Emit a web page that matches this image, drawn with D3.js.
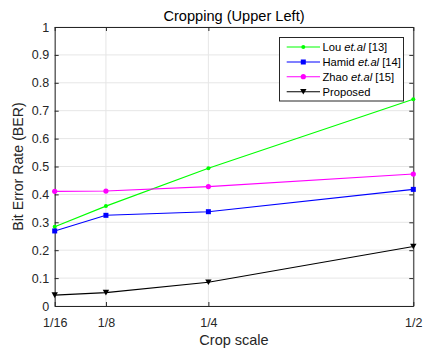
<!DOCTYPE html>
<html><head><meta charset="utf-8">
<script src="https://cdn.jsdelivr.net/npm/d3@7"></script>
<style>body{margin:0;background:#fff;}text{font-family:"Liberation Sans",Arial,sans-serif;}</style>
</head><body><svg id="c" width="426" height="350"></svg>
<script>
const xValues=[0.0625,0.125,0.25,0.5];
const xTickLabels=["1/16","1/8","1/4","1/2"];
const yTicks=[0,0.1,0.2,0.3,0.4,0.5,0.6,0.7,0.8,0.9,1];
const seriesNames=["Lou et.al [13]","Hamid et.al [14]","Zhao et.al [15]","Proposed"];
const louValues=[0.284,0.358,0.494,0.741];
const hamidValues=[0.269,0.325,0.338,0.418];
const zhaoValues=[0.411,0.412,0.428,0.473];
const proposedValues=[0.039,0.048,0.085,0.213];

const series=[
 {name:"Lou",ref:"[13]",vals:louValues,color:"#00ff00",marker:"dot"},
 {name:"Hamid",ref:"[14]",vals:hamidValues,color:"#0000ff",marker:"square"},
 {name:"Zhao",ref:"[15]",vals:zhaoValues,color:"#ff00ff",marker:"circle"},
 {name:"Proposed",ref:"",vals:proposedValues,color:"#000000",marker:"tri"}
];
const svg=d3.select("#c");
const L=54.7,R=413.3,T=27,B=306;
const x=d3.scaleLinear().domain([0.0625,0.5]).range([L,R]);
const y=d3.scaleLinear().domain([0,1]).range([B,T]);

// grid
svg.append("g").selectAll("line").data(yTicks).join("line")
 .attr("x1",L).attr("x2",R).attr("y1",d=>y(d)).attr("y2",d=>y(d))
 .attr("stroke","#e6e6e6").attr("stroke-width",1);
svg.append("g").selectAll("line").data(xValues).join("line")
 .attr("y1",T).attr("y2",B).attr("x1",d=>x(d)).attr("x2",d=>x(d))
 .attr("stroke","#e6e6e6").attr("stroke-width",1);

// axes
const fmt=d=>d===0?"0":(d===1?"1":d3.format(".1f")(d));
const ay=svg.append("g").attr("transform",`translate(${L},0)`)
 .call(d3.axisLeft(y).tickValues(yTicks).tickFormat(fmt).tickSizeInner(-4).tickSizeOuter(0).tickPadding(5.5));
const ay2=svg.append("g").attr("transform",`translate(${R},0)`)
 .call(d3.axisRight(y).tickValues(yTicks).tickFormat("").tickSizeInner(-4).tickSizeOuter(0));
const ax=svg.append("g").attr("transform",`translate(0,${B})`)
 .call(d3.axisBottom(x).tickValues(xValues).tickFormat((d,i)=>xTickLabels[i]).tickSizeInner(-4).tickSizeOuter(0).tickPadding(12));
const ax2=svg.append("g").attr("transform",`translate(0,${T})`)
 .call(d3.axisTop(x).tickValues(xValues).tickFormat("").tickSizeInner(-4).tickSizeOuter(0));
[ay,ay2,ax,ax2].forEach(g=>{
 g.selectAll("path").attr("stroke","#262626").attr("stroke-width",1);
 g.selectAll("line").attr("stroke","#262626");
 g.selectAll("text").attr("fill","#262626").attr("font-size",12.5).attr("font-family","Liberation Sans, Arial, sans-serif");
});

// lines
const line=d3.line().x((d,i)=>x(xValues[i])).y(d=>y(d));
function drawMarker(g,m,cx,cy,color){
 if(m==="dot") g.append("circle").attr("cx",cx).attr("cy",cy).attr("r",2).attr("fill",color);
 else if(m==="circle") g.append("circle").attr("cx",cx).attr("cy",cy).attr("r",2.6).attr("fill",color);
 else if(m==="square") g.append("rect").attr("x",cx-2.5).attr("y",cy-2.5).attr("width",5).attr("height",5).attr("fill",color);
 else g.append("path").attr("d",`M${cx-3.2},${cy-2.8}L${cx+3.2},${cy-2.8}L${cx},${cy+2.8}Z`).attr("fill",color);
}
series.forEach(s=>{
 const g=svg.append("g");
 g.append("path").datum(s.vals).attr("d",line).attr("fill","none").attr("stroke",s.color).attr("stroke-width",1.1);
 s.vals.forEach((v,i)=>drawMarker(g,s.marker,x(xValues[i]),y(v),s.color));
});

// legend
const lg=svg.append("g");
lg.append("rect").attr("x",279.5).attr("y",37.5).attr("width",124).attr("height",63.5)
 .attr("fill","#fff").attr("stroke","#262626").attr("stroke-width",1);
const rowY=[47,62,76.7,91.7];
series.forEach((s,i)=>{
 lg.append("line").attr("x1",286.7).attr("x2",320).attr("y1",rowY[i]).attr("y2",rowY[i]).attr("stroke",s.color).attr("stroke-width",1.1);
 drawMarker(lg,s.marker,303.3,rowY[i],s.color);
 const t=lg.append("text").attr("x",322.5).attr("y",rowY[i]+4.4).attr("font-size",11.2).attr("fill","#000");
 t.append("tspan").text(s.name);
 if(s.ref){
  t.append("tspan").text(" ");
  t.append("tspan").attr("font-style","italic").text("et.al");
  t.append("tspan").text(" "+s.ref);
 }
});

// title & labels
svg.append("text").attr("x",(L+R)/2).attr("y",20.7).attr("text-anchor","middle").attr("font-size",14.6).attr("fill","#000").text("Cropping (Upper Left)");
svg.append("text").attr("x",(L+R)/2).attr("y",345).attr("text-anchor","middle").attr("font-size",14.5).attr("fill","#262626").text("Crop scale");
svg.append("text").attr("transform",`translate(22.7,${(T+B)/2}) rotate(-90)`).attr("text-anchor","middle").attr("font-size",14.2).attr("fill","#262626").text("Bit Error Rate (BER)");
</script></body></html>
